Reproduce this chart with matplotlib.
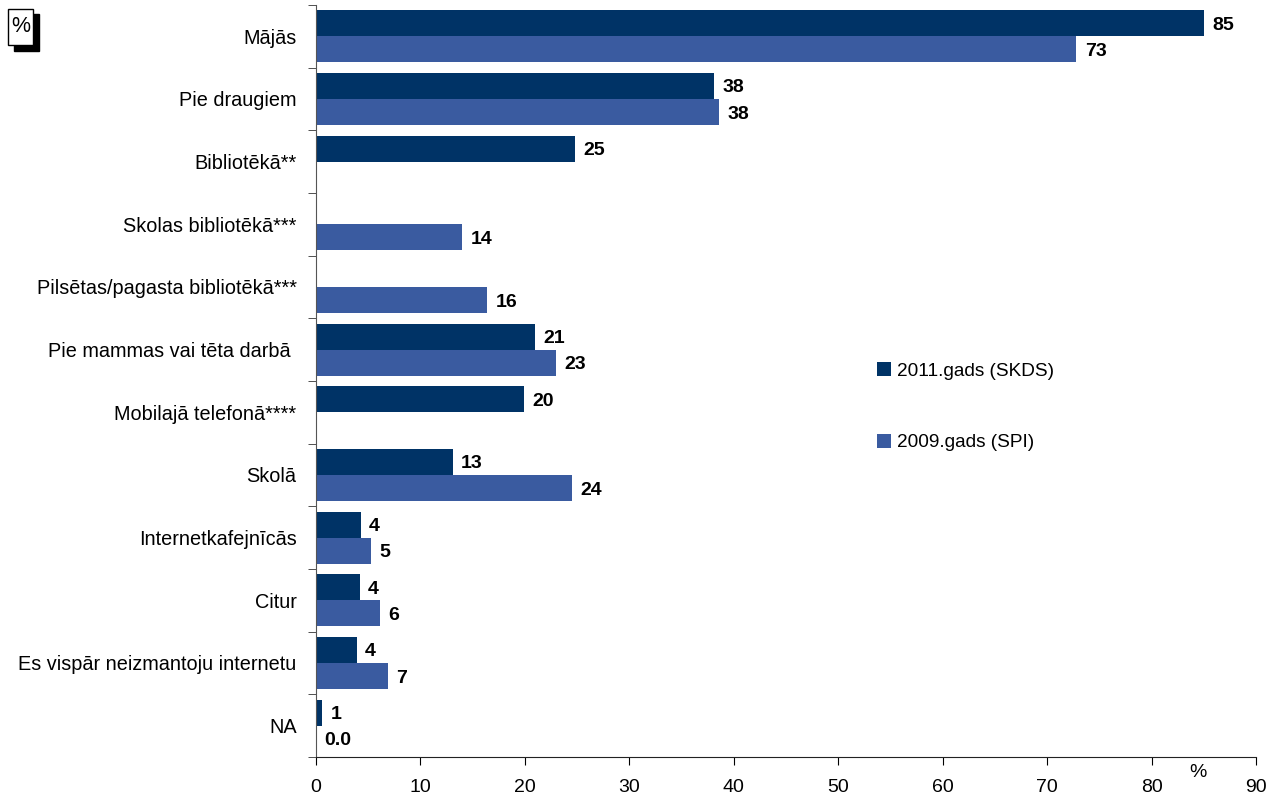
import matplotlib
matplotlib.use("Agg")
import matplotlib.pyplot as plt
from matplotlib.patches import Rectangle
import numpy as np

plt.rcParams['font.family'] = ['Liberation Sans', 'DejaVu Sans']

categories = ["Mājās", "Pie draugiem", "Bibliotēkā**", "Skolas bibliotēkā***",
              "Pilsētas/pagasta bibliotēkā***", "Pie mammas vai tēta darbā ",
              "Mobilajā telefonā****", "Skolā", "Internetkafejnīcās", "Citur",
              "Es vispār neizmantoju internetu", "NA"]
s2011_name = "2011.gads (SKDS)"
s2009_name = "2009.gads (SPI)"
s2011 = [85.0, 38.1, 24.8, None, None, 21.0, 19.9, 13.1, 4.3, 4.2, 3.9, 0.6]
s2009 = [72.8, 38.6, None, 14.0, 16.4, 23.0, None, 24.5, 5.3, 6.1, 6.9, 0.0]
lab2011 = ["85", "38", "25", None, None, "21", "20", "13", "4", "4", "4", "1"]
lab2009 = ["73", "38", None, "14", "16", "23", None, "24", "5", "6", "7", "0.0"]
xticks = [0, 10, 20, 30, 40, 50, 60, 70, 80, 90]

c2011 = "#003366"
c2009 = "#3A5BA0"

W, H = 1278, 796
fig = plt.figure(figsize=(W / 100, H / 100), dpi=100)
ax = fig.add_axes([316 / W, 1 - 757 / H, (1256 - 316) / W, (757 - 5) / H])

n = len(categories)
y = np.arange(n)
bh = 0.415

for i in range(n):
    if s2011[i] is not None:
        ax.barh(y[i] - bh / 2, s2011[i], height=bh, color=c2011, label=s2011_name if i == 0 else None)
        ax.annotate(lab2011[i], (s2011[i], y[i] - bh / 2), xytext=(6, 0), textcoords="offset points",
                    va="center_baseline", ha="left", fontsize=14, fontweight="bold")
    if s2009[i] is not None:
        ax.barh(y[i] + bh / 2, s2009[i], height=bh, color=c2009, label=s2009_name if i == 0 else None)
        ax.annotate(lab2009[i], (s2009[i], y[i] + bh / 2), xytext=(6, 0), textcoords="offset points",
                    va="center_baseline", ha="left", fontsize=14, fontweight="bold")

ax.set_ylim(n - 0.5, -0.5)
ax.set_xlim(0, 90)
ax.set_yticks(y)
ax.set_yticklabels(categories, fontsize=14.3)
ax.tick_params(axis="y", which="major", length=0, pad=14)
ax.set_yticks(np.arange(-0.5, n, 1.0), minor=True)
ax.tick_params(axis="y", which="minor", length=6, direction="out", color="#333333")
ax.set_xticks(xticks)
ax.set_xticklabels([str(v) for v in xticks], fontsize=14)
ax.tick_params(axis="x", length=6, direction="out", pad=10)

for s in ["top", "right"]:
    ax.spines[s].set_visible(False)
ax.spines["left"].set_color("#555555")
ax.spines["bottom"].set_color("#222222")

ax.annotate("%", (84.4, 0), xycoords=("data", "axes fraction"), xytext=(0, -5),
            textcoords="offset points", ha="center", va="top", fontsize=14)

leg = ax.legend(loc="upper left", bbox_to_anchor=(877 / W, 1 - 362 / H), bbox_transform=fig.transFigure,
                frameon=False, fontsize=13.7, handlelength=0.75, handleheight=0.75,
                handletextpad=0.3, labelspacing=2.85, borderpad=0, borderaxespad=0)

# "%" box top-left with shadow
fig.patches.append(Rectangle((14 / W, 1 - 51 / H), 25 / W, 37 / H, transform=fig.transFigure,
                             facecolor="black", edgecolor="black", zorder=1))
fig.patches.append(Rectangle((8 / W, 1 - 45 / H), 25 / W, 36 / H, transform=fig.transFigure,
                             facecolor="white", edgecolor="black", linewidth=1, zorder=2))
fig.text(21 / W, 1 - 26 / H, "%", ha="center", va="center", fontsize=15.5, zorder=3)

fig.savefig("out.png", dpi=100)
